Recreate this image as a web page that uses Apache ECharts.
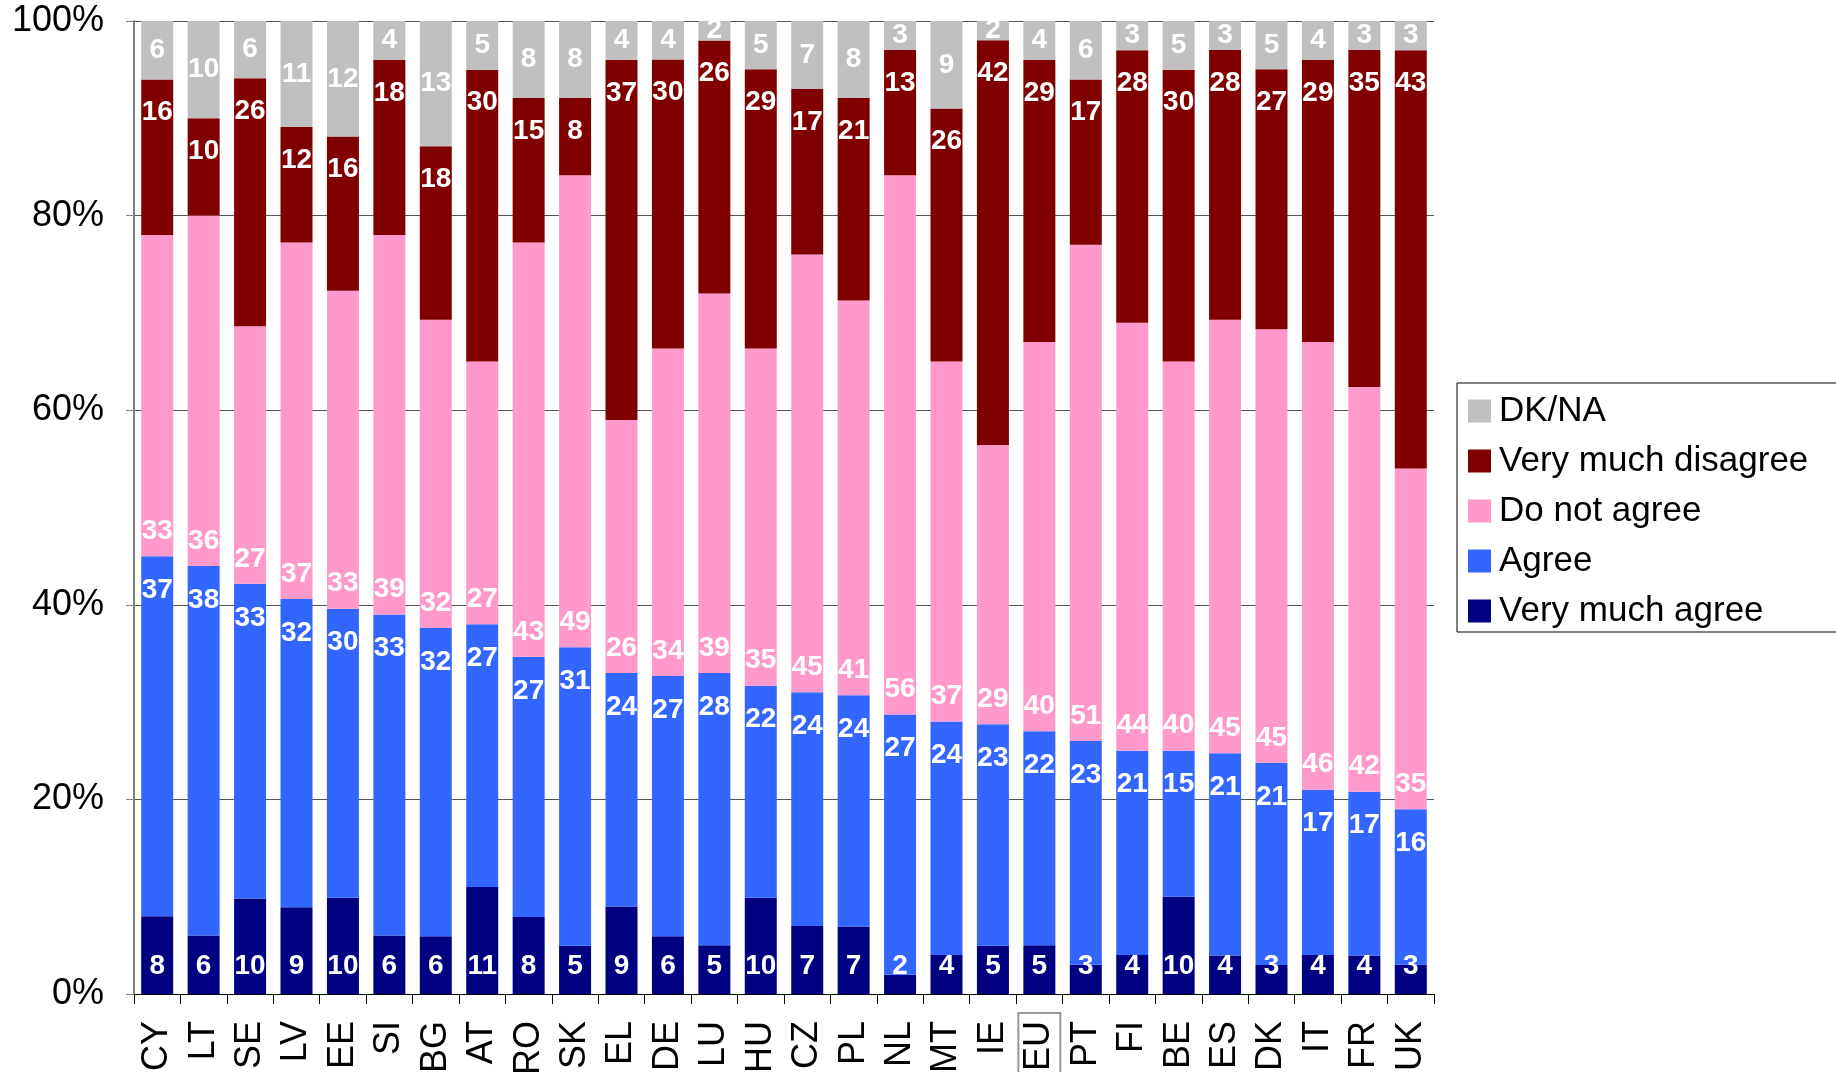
<!DOCTYPE html>
<html>
<head>
<meta charset="utf-8">
<script src="https://cdn.jsdelivr.net/npm/echarts@6/dist/echarts.min.js"></script>
<style>
html,body{margin:0;padding:0;background:#fff;}
#chart{width:1836px;height:1072px;}
</style>
</head>
<body>
<div id="chart"></div>
<script>
const categories = ['CY','LT','SE','LV','EE','SI','BG','AT','RO','SK','EL','DE','LU','HU','CZ','PL','NL','MT','IE','EU','PT','FI','BE','ES','DK','IT','FR','UK'];
const veryMuchAgree    = [8,6,10,9,10,6,6,11,8,5,9,6,5,10,7,7,2,4,5,5,3,4,10,4,3,4,4,3];
const agree            = [37,38,33,32,30,33,32,27,27,31,24,27,28,22,24,24,27,24,23,22,23,21,15,21,21,17,17,16];
const doNotAgree       = [33,36,27,37,33,39,32,27,43,49,26,34,39,35,45,41,56,37,29,40,51,44,40,45,45,46,42,35];
const veryMuchDisagree = [16,10,26,12,16,18,18,30,15,8,37,30,26,29,17,21,13,26,42,29,17,28,30,28,27,29,35,43];
const dkna             = [6,10,6,11,12,4,13,5,8,8,4,4,2,5,7,8,3,9,2,4,6,3,5,3,5,4,3,3];
const yTicks = [0,20,40,60,80,100];

const FONT = '"Liberation Sans", Arial, sans-serif';
const totals = categories.map((c,i)=>veryMuchAgree[i]+agree[i]+doNotAgree[i]+veryMuchDisagree[i]+dkna[i]);
const pct = arr => arr.map((v,i)=>v/totals[i]*100);

function mk(name, raw, color, pos, dist){
  return {
    name: name, type:'bar', stack:'all', barWidth:32,
    data: pct(raw),
    itemStyle:{color:color},
    label:{show:true, position:pos, distance:dist, color:'#fff', fontWeight:'bold', fontSize:28, fontFamily:FONT,
      formatter: p => raw[p.dataIndex]},
    emphasis:{disabled:true}
  };
}

const chart = echarts.init(document.getElementById('chart'));
chart.setOption({
  animation:false,
  backgroundColor:'#fff',
  grid:{left:134, right:402, top:21, bottom:78, containLabel:false, outerBoundsMode:'none'},
  legend:{
    orient:'vertical', left:1457, top:383,
    data:['DK/NA','Very much disagree','Do not agree','Agree','Very much agree'],
    itemWidth:23, itemHeight:23, itemGap:14, icon:'rect',
    borderColor:'#000', borderWidth:1, padding:[10,60,3,11],
    textStyle:{fontSize:35, fontFamily:FONT, color:'#000', lineHeight:36, padding:[0,0,0,3]},
    selectedMode:false
  },
  xAxis:{
    type:'category', data:categories,
    axisLine:{lineStyle:{color:'#000', width:1}},
    axisTick:{show:true, length:10, lineStyle:{color:'#000'}},
    axisLabel:{rotate:90, fontSize:36, fontFamily:FONT, color:'#000', margin:19, interval:0,
      formatter: v => v==='EU' ? '{eu|EU}' : '{n|' + v + '}',
      rich:{
        n:{fontSize:36, fontFamily:FONT, color:'#000', padding:[3,8,3,0]},
        eu:{fontSize:36, fontFamily:FONT, color:'#000', borderColor:'#999', borderWidth:2, padding:[3,8,3,40]}
      }}
  },
  yAxis:{
    type:'value', min:yTicks[0], max:yTicks[yTicks.length-1], interval:20,
    axisLine:{show:true, lineStyle:{color:'#808080', width:2}},
    axisTick:{show:true, length:8, lineStyle:{color:'#808080'}},
    axisLabel:{formatter:'{value}%', fontSize:36, fontFamily:FONT, color:'#000', margin:30},
    splitLine:{show:true, lineStyle:{color:'#555', width:1}}
  },
  series:[
    mk('Very much agree', veryMuchAgree, '#000080', 'insideBottom', 14),
    mk('Agree', agree, '#3366FF', 'insideTop', 20),
    mk('Do not agree', doNotAgree, '#FF99CC', 'insideBottom', 11),
    mk('Very much disagree', veryMuchDisagree, '#800000', 'insideTop', 19),
    mk('DK/NA', dkna, '#C0C0C0', 'inside', 0)
  ]
});
</script>
</body>
</html>
